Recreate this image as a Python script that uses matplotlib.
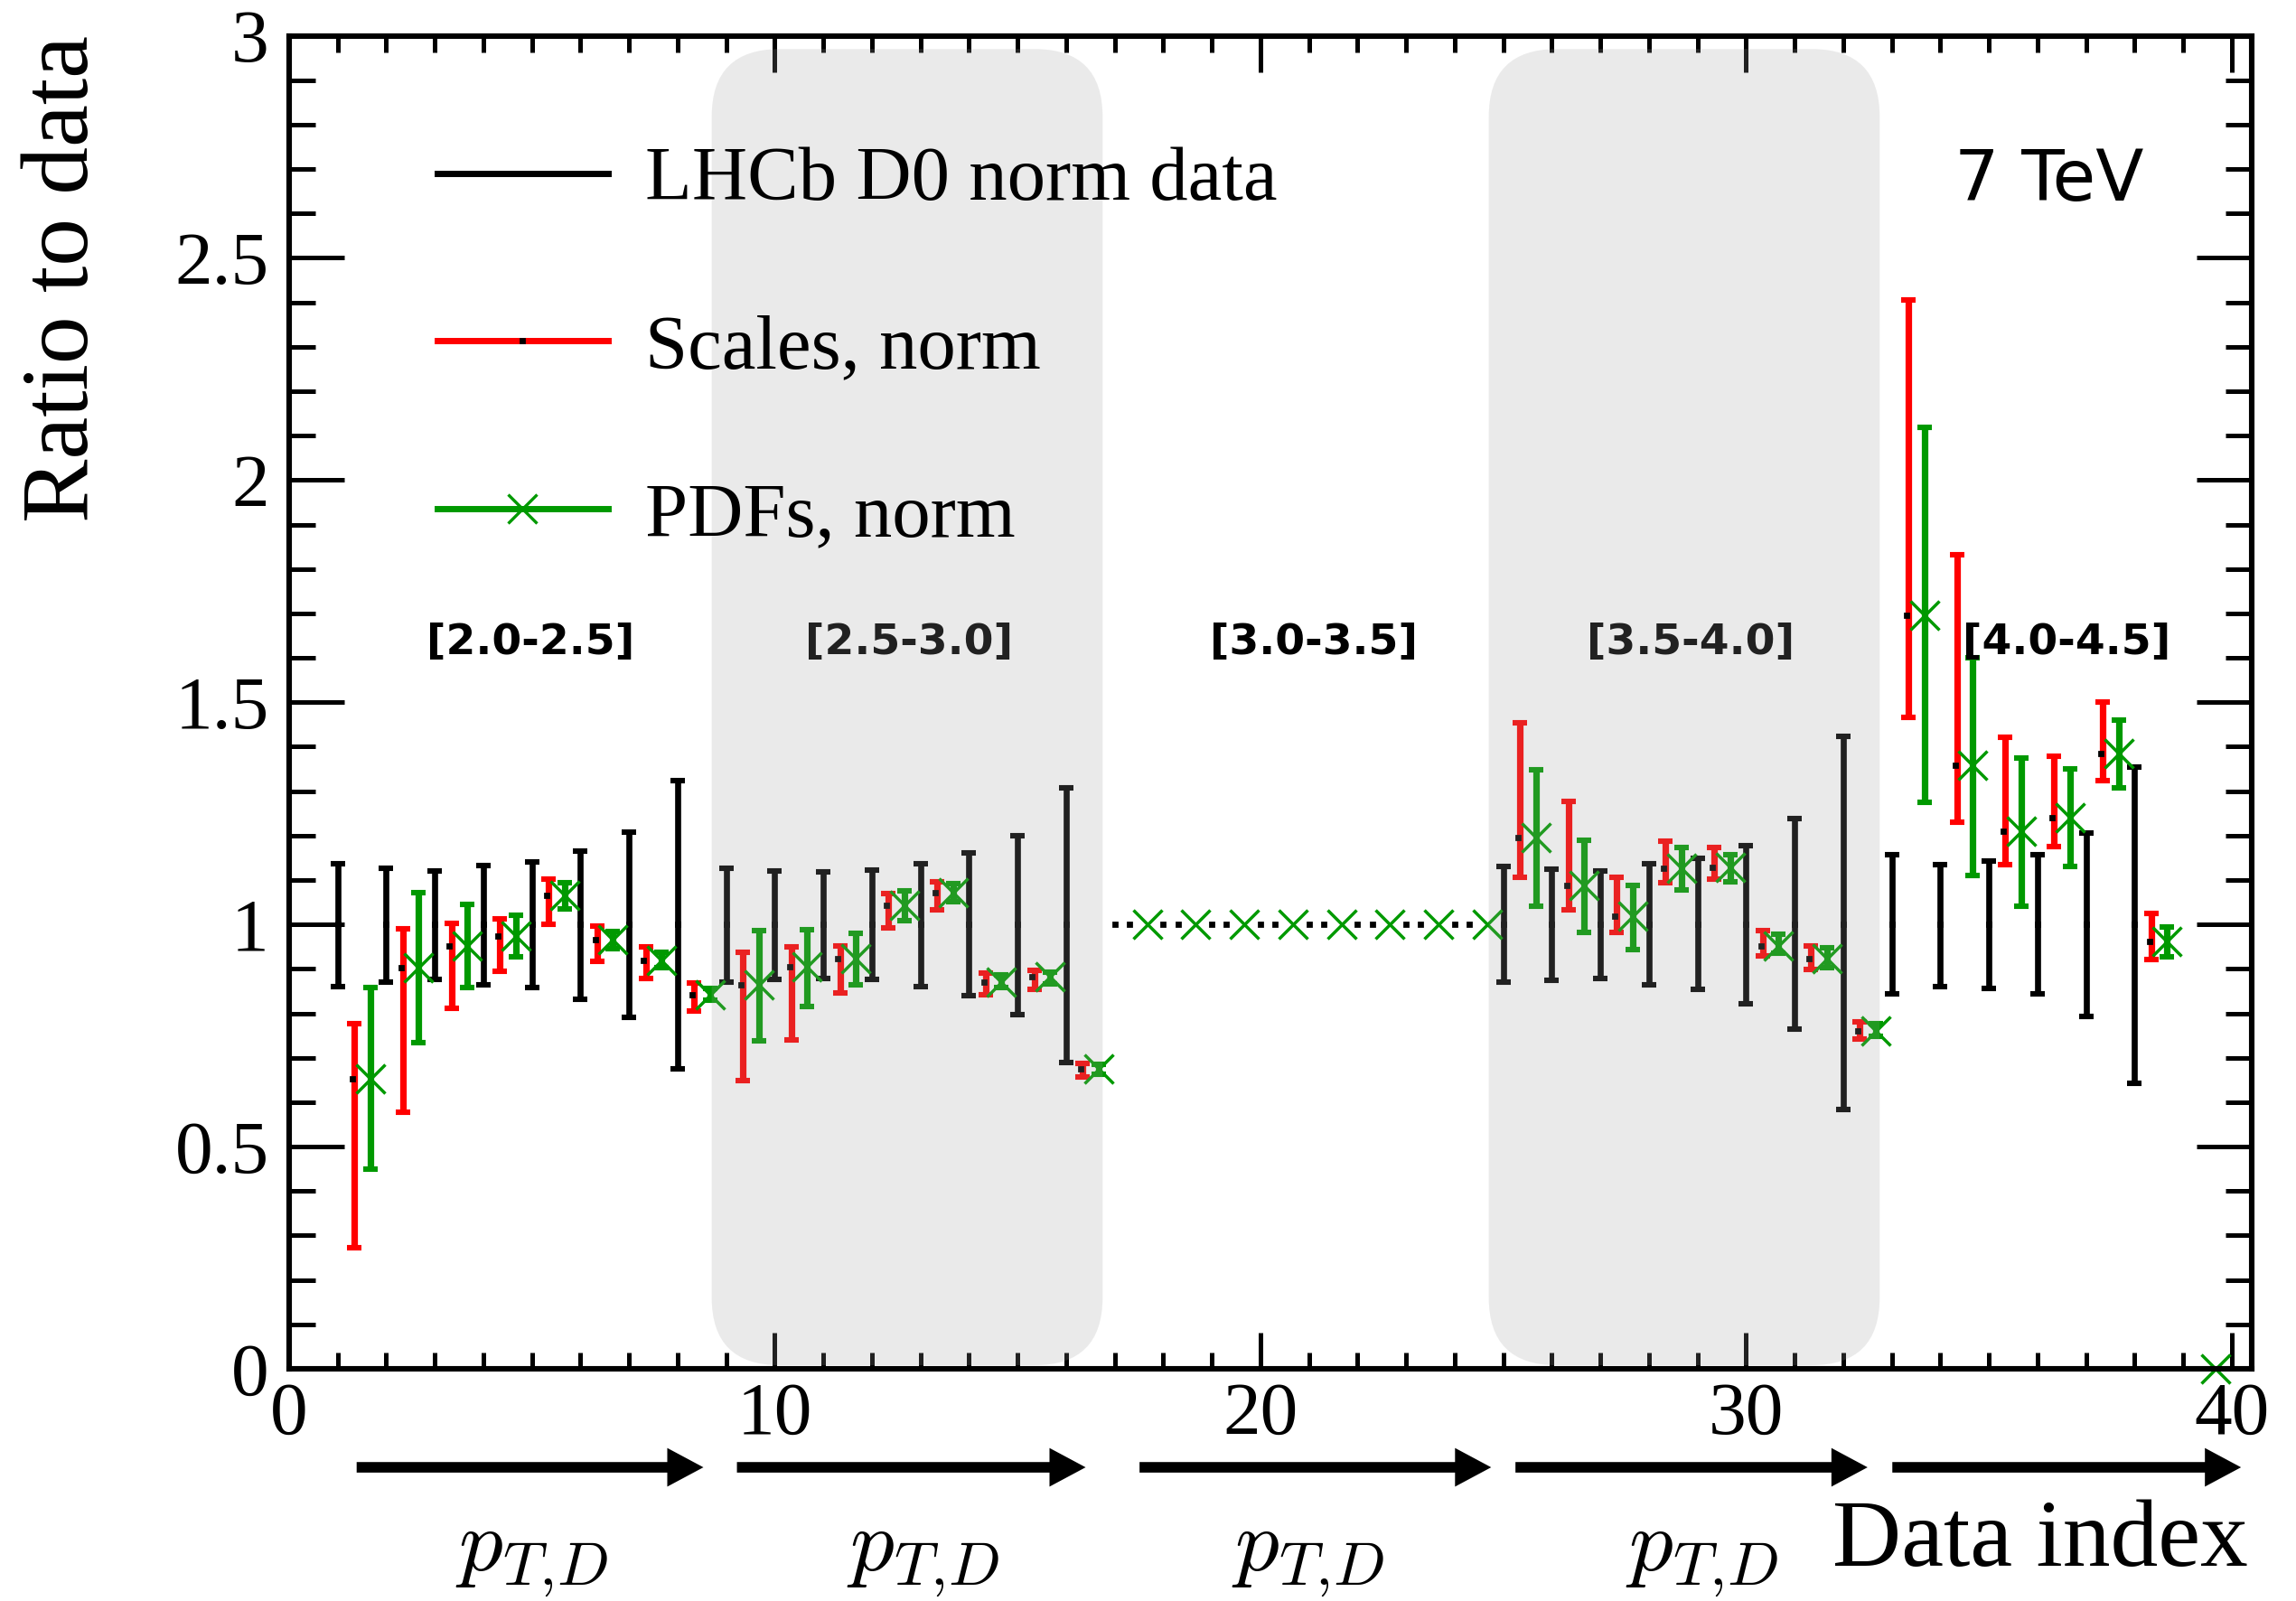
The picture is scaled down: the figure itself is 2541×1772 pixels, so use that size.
import numpy as np
import matplotlib
matplotlib.use("Agg")
import matplotlib.pyplot as plt
from matplotlib.lines import Line2D
from matplotlib.patches import FancyBboxPatch
from matplotlib.ticker import MultipleLocator, FuncFormatter
from matplotlib.transforms import blended_transform_factory

plt.rcParams["font.family"] = ["Liberation Serif", "DejaVu Serif"]
plt.rcParams["mathtext.fontset"] = "cm"

# data index of each point (black = data, red = scales, green = PDFs)
index = np.arange(1, 40)

# LHCb D0 normalised data: ratio is 1, these are the lower / upper error bounds
data_lo = [0.861, 0.871, 0.877, 0.864, 0.857, 0.831, 0.791, 0.675,
           0.871, 0.877, 0.879, 0.877, 0.861, 0.839, 0.798, 0.690,
           1.0, 1.0, 1.0, 1.0, 1.0, 1.0, 1.0, 1.0,
           0.870, 0.875, 0.878, 0.864, 0.853, 0.822, 0.765, 0.584,
           0.843, 0.860, 0.855, 0.843, 0.792, 0.643, np.nan]
data_hi = [1.137, 1.126, 1.120, 1.132, 1.141, 1.166, 1.207, 1.324,
           1.126, 1.121, 1.118, 1.122, 1.137, 1.160, 1.200, 1.308,
           1.0, 1.0, 1.0, 1.0, 1.0, 1.0, 1.0, 1.0,
           1.131, 1.124, 1.120, 1.137, 1.149, 1.177, 1.238, 1.424,
           1.156, 1.135, 1.142, 1.156, 1.206, 1.355, np.nan]

# Scales, norm
scales_mid = [0.653, 0.902, 0.951, 0.974, 1.065, 0.965, 0.920, 0.842,
              0.864, 0.904, 0.923, 1.043, 1.072, 0.871, 0.882, 0.675,
              1.0, 1.0, 1.0, 1.0, 1.0, 1.0, 1.0, 1.0,
              1.196, 1.087, 1.019, 1.127, 1.129, 0.952, 0.923, 0.761,
              1.696, 1.358, 1.210, 1.240, 1.384, 0.961, np.nan]
scales_lo = [0.272, 0.578, 0.812, 0.895, 1.001, 0.917, 0.879, 0.805,
             0.648, 0.740, 0.846, 0.993, 1.033, 0.841, 0.854, 0.656,
             1.0, 1.0, 1.0, 1.0, 1.0, 1.0, 1.0, 1.0,
             1.107, 1.033, 0.983, 1.094, 1.102, 0.930, 0.899, 0.743,
             1.465, 1.231, 1.135, 1.176, 1.324, 0.922, np.nan]
scales_hi = [0.777, 0.991, 1.003, 1.013, 1.102, 0.997, 0.949, 0.869,
             0.937, 0.949, 0.951, 1.069, 1.096, 0.890, 0.896, 0.688,
             1.0, 1.0, 1.0, 1.0, 1.0, 1.0, 1.0, 1.0,
             1.453, 1.276, 1.107, 1.188, 1.173, 0.986, 0.952, 0.781,
             2.406, 1.831, 1.422, 1.379, 1.500, 1.024, np.nan]

# PDFs, norm
pdfs_mid = [0.653, 0.902, 0.951, 0.974, 1.065, 0.965, 0.920, 0.842,
            0.864, 0.904, 0.923, 1.043, 1.072, 0.871, 0.882, 0.675,
            1.0, 1.0, 1.0, 1.0, 1.0, 1.0, 1.0, 1.0,
            1.196, 1.087, 1.019, 1.127, 1.129, 0.952, 0.923, 0.761,
            1.696, 1.358, 1.210, 1.240, 1.384, 0.961, 0.0]
pdfs_lo = [0.449, 0.734, 0.857, 0.927, 1.035, 0.945, 0.903, 0.829,
           0.739, 0.816, 0.865, 1.008, 1.052, 0.858, 0.867, 0.662,
           1.0, 1.0, 1.0, 1.0, 1.0, 1.0, 1.0, 1.0,
           1.041, 0.983, 0.944, 1.077, 1.096, 0.936, 0.903, 0.748,
           1.274, 1.110, 1.042, 1.130, 1.308, 0.927, 0.0]
pdfs_hi = [0.858, 1.072, 1.046, 1.021, 1.093, 0.984, 0.937, 0.856,
           0.987, 0.989, 0.979, 1.076, 1.092, 0.886, 0.892, 0.686,
           1.0, 1.0, 1.0, 1.0, 1.0, 1.0, 1.0, 1.0,
           1.348, 1.190, 1.087, 1.173, 1.157, 0.977, 0.947, 0.776,
           2.119, 1.600, 1.375, 1.350, 1.460, 0.995, 0.0]

# rapidity bins
bin_labels = ["[2.0-2.5]", "[2.5-3.0]", "[3.0-3.5]", "[3.5-4.0]", "[4.0-4.5]"]
bin_label_x = [4.97, 12.77, 21.1, 28.86, 36.6]
shaded_first = [9, 25]
shaded_last = [16, 32]
arrow_from = [1.39, 9.22, 17.51, 25.25, 33.01]
arrow_to = [8.53, 16.40, 24.75, 32.50, 40.19]
pt_label_x = [5.0, 13.05, 20.98, 29.09]

BLACK = "black"
RED = "#ff0000"
GREEN = "#009900"


def draw_bars(ax, x, mid, lo, hi, color, lw):
    mid, lo, hi = np.asarray(mid), np.asarray(lo), np.asarray(hi)
    mask = hi > lo
    ax.errorbar(x[mask], mid[mask], yerr=[mid[mask] - lo[mask], hi[mask] - mid[mask]],
                fmt="none", ecolor=color, elinewidth=lw, capsize=2.8, capthick=2.2, zorder=2)


fig = plt.figure(figsize=(12.705, 8.86), dpi=200)
ax = fig.add_axes([320 / 2541, 1 - 1515 / 1772, (2492 - 320) / 2541, (1515 - 39.5) / 1772])

ax.set_xlim(0, 40.41)
ax.set_ylim(0, 3)

draw_bars(ax, index, np.ones(len(index)), data_lo, data_hi, BLACK, 2.4)
ax.plot(index, np.where(np.isnan(data_lo), np.nan, 1.0), "s", ms=1.5, color=BLACK, zorder=2.2)

draw_bars(ax, index + 0.34, scales_mid, scales_lo, scales_hi, RED, 2.6)
ax.plot(index + 0.30, scales_mid, "s", ms=1.5, color=BLACK, ls="none", zorder=2.2)

draw_bars(ax, index + 2 / 3, pdfs_mid, pdfs_lo, pdfs_hi, GREEN, 2.6)
ax.plot(index + 2 / 3, pdfs_mid, "x", ms=11.5, mew=1.25, color=GREEN, ls="none",
        zorder=2.3, clip_on=False)

for label, x in zip(bin_labels, bin_label_x):
    ax.text(x, 1.633, label, ha="center", va="center", fontsize=17,
            fontweight="bold", family="DejaVu Sans", zorder=2)

# grey rounded bands over the 2nd and 4th rapidity bins
for first, last in zip(shaded_first, shaded_last):
    x0, x1 = first - 0.3, last + 0.75
    band = FancyBboxPatch((x0, 0.008), x1 - x0, 2.97 - 0.008,
                          boxstyle="round,pad=0,rounding_size=1.4", mutation_aspect=0.109,
                          facecolor=(160 / 255, 160 / 255, 160 / 255), alpha=0.212,
                          edgecolor="none", zorder=2.7)
    ax.add_patch(band)

ax.text(38.18, 2.674, "7 TeV", ha="right", va="center", fontsize=28, family="DejaVu Sans", zorder=5)

handles = [
    Line2D([], [], color=BLACK, lw=2.5),
    Line2D([], [], color=RED, lw=2.5, marker="s", ms=1.5, mfc=BLACK, mec=BLACK),
    Line2D([], [], color=GREEN, lw=2.5, marker="x", ms=11.5, mew=1.2),
]
leg = ax.legend(handles, ["LHCb D0 norm data", "Scales, norm", "PDFs, norm"],
                loc="upper left", bbox_to_anchor=(0.0755, 0.917), frameon=False,
                fontsize=30.5, handlelength=2.23, handletextpad=0.48, labelspacing=1.28,
                borderpad=0, borderaxespad=0, numpoints=1)
leg.set_zorder(5)

# axes styling
ax.xaxis.set_major_locator(MultipleLocator(10))
ax.xaxis.set_minor_locator(MultipleLocator(1))
ax.yaxis.set_major_locator(MultipleLocator(0.5))
ax.yaxis.set_minor_locator(MultipleLocator(0.1))
ax.yaxis.set_major_formatter(FuncFormatter(lambda v, p: f"{v:g}"))
ax.tick_params(which="both", direction="in", top=True, right=True, width=1.8, labelsize=30)
ax.tick_params(axis="x", which="major", length=14.5, pad=5)
ax.tick_params(axis="x", which="minor", length=6.5)
ax.tick_params(axis="y", which="major", length=22, pad=8)
ax.tick_params(axis="y", which="minor", length=10.5)
for spine in ax.spines.values():
    spine.set_linewidth(2.2)

# arrows and p_T labels below the axis
trans = blended_transform_factory(ax.transData, ax.transAxes)
for x0, x1 in zip(arrow_from, arrow_to):
    ax.annotate("", xy=(x1, -0.0739), xytext=(x0, -0.0739), xycoords=trans, textcoords=trans,
                arrowprops=dict(facecolor=BLACK, edgecolor="none", width=4.2, headwidth=15.4,
                                headlength=14.4, shrink=0),
                annotation_clip=False)
for x in pt_label_x:
    ax.text(x, -0.143, r"$p_{T,\!D}$", transform=trans, ha="center", va="center", fontsize=35)

fig.text(97 / 2541, 1 - 39 / 1772, "Ratio to data", rotation=90, rotation_mode="anchor",
         ha="right", va="baseline", fontsize=38)
fig.text(2488 / 2541, 1 - 1733 / 1772, "Data index", ha="right", va="baseline", fontsize=38)

fig.savefig("out.png", dpi=200)
